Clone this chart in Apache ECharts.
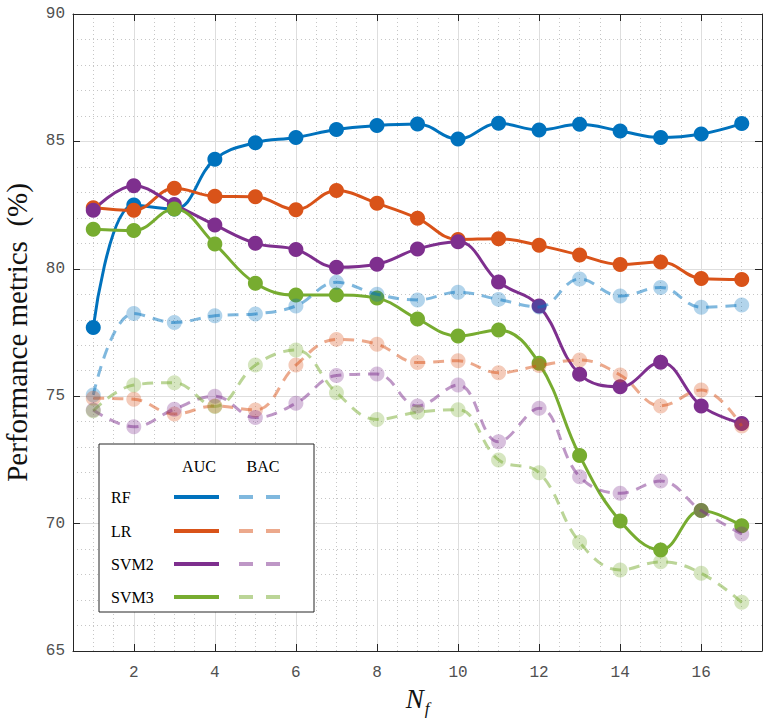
<!DOCTYPE html>
<html>
<head>
<meta charset="utf-8">
<script src="https://cdn.jsdelivr.net/npm/echarts@6/dist/echarts.min.js"></script>
<style>
html,body{margin:0;padding:0;background:#fff;}
#chart{width:771px;height:718px;}
</style>
</head>
<body>
<div id="chart"></div>
<script>
// ---- data ----
const nf = [1, 2, 3, 4, 5, 6, 7, 8, 9, 10, 11, 12, 13, 14, 15, 16, 17];
const methods = ['RF', 'LR', 'SVM2', 'SVM3'];
const metricHeaders = ['AUC', 'BAC'];
const rfAUC   = [77.7, 82.5, 82.35, 84.3, 84.95, 85.15, 85.47, 85.62, 85.68, 85.09, 85.71, 85.45, 85.67, 85.41, 85.15, 85.29, 85.7];
const lrAUC   = [82.4, 82.3, 83.16, 82.85, 82.83, 82.32, 83.07, 82.57, 81.98, 81.15, 81.18, 80.92, 80.54, 80.17, 80.27, 79.62, 79.58];
const svm2AUC = [82.3, 83.26, 82.52, 81.72, 81.0, 80.76, 80.06, 80.18, 80.78, 81.06, 79.48, 78.54, 75.86, 75.37, 76.33, 74.62, 73.93];
const svm3AUC = [81.55, 81.5, 82.35, 80.97, 79.43, 78.97, 78.97, 78.85, 78.03, 77.36, 77.6, 76.29, 72.67, 70.1, 68.96, 70.51, 69.92];
const rfBAC   = [75.05, 78.25, 77.89, 78.16, 78.23, 78.54, 79.47, 79.0, 78.78, 79.08, 78.8, 78.5, 79.6, 78.93, 79.27, 78.49, 78.58];
const lrBAC   = [74.92, 74.88, 74.3, 74.62, 74.46, 76.22, 77.23, 77.04, 76.32, 76.39, 75.92, 76.2, 76.42, 75.83, 74.62, 75.24, 73.83];
const svm2BAC = [74.46, 73.8, 74.49, 75.0, 74.16, 74.72, 75.81, 75.87, 74.62, 75.44, 73.21, 74.53, 71.84, 71.19, 71.67, 70.51, 69.59];
const svm3BAC = [74.43, 75.44, 75.53, 74.6, 76.22, 76.81, 75.14, 74.09, 74.37, 74.47, 72.5, 72.0, 69.27, 68.18, 68.5, 68.05, 66.91];
const xTicks = [2, 4, 6, 8, 10, 12, 14, 16];
const yMin = 65, yMax = 90, xMin = 0.5, xMax = 17.5;

// ---- style ----
const rgb = [[0,114,189],[217,83,25],[126,47,142],[119,172,48]];
const solidCol = rgb.map(c => `rgb(${c[0]},${c[1]},${c[2]})`);
const lineLight = rgb.map(c => `rgba(${c[0]},${c[1]},${c[2]},0.5)`);
const markLight = rgb.map(c => `rgba(${c[0]},${c[1]},${c[2]},0.3)`);
const aucSets = [rfAUC, lrAUC, svm2AUC, svm3AUC];
const bacSets = [rfBAC, lrBAC, svm2BAC, svm3BAC];
const pairs = arr => nf.map((x, i) => [x, arr[i]]);
const axisCol = '#262626';
const tickFont = {fontFamily: 'Liberation Mono', fontSize: 16, color: '#505050'};
const minorCol = '#c6c6c6';
const majorCol = '#dedede';
const T = 'rgba(0,0,0,0)';

const series = [];
aucSets.forEach((d, k) => series.push({
  name: methods[k] + ' AUC', type: 'line', xAxisIndex: 0, yAxisIndex: 0,
  data: pairs(d), smooth: 0.4, symbol: 'circle', symbolSize: 15,
  lineStyle: {color: solidCol[k], width: 3},
  itemStyle: {color: solidCol[k]}, z: 3
}));
bacSets.forEach((d, k) => series.push({
  name: methods[k] + ' BAC', type: 'line', xAxisIndex: 0, yAxisIndex: 0,
  data: pairs(d), smooth: 0.4, symbol: 'circle', symbolSize: 15,
  lineStyle: {color: lineLight[k], width: 3, type: [11, 8]},
  itemStyle: {color: markLight[k]}, z: 4
}));

// legend box (graphic)
const rowY = [497, 531, 564, 597];
const legFont = '16px "Liberation Serif"';
const legendEls = [
  {type: 'rect', shape: {x: 99, y: 444, width: 215, height: 168},
   style: {fill: '#fff', stroke: axisCol, lineWidth: 1}},
  {type: 'text', x: 199, y: 466, style: {text: metricHeaders[0], font: legFont, fill: '#000', align: 'center', verticalAlign: 'middle'}},
  {type: 'text', x: 263, y: 466, style: {text: metricHeaders[1], font: legFont, fill: '#000', align: 'center', verticalAlign: 'middle'}}
];
methods.forEach((m, k) => {
  legendEls.push({type: 'text', x: 111, y: rowY[k], style: {text: m, font: legFont, fill: '#000', align: 'left', verticalAlign: 'middle'}});
  legendEls.push({type: 'line', shape: {x1: 174, y1: rowY[k], x2: 219, y2: rowY[k]}, style: {stroke: solidCol[k], lineWidth: 4}});
  legendEls.push({type: 'line', shape: {x1: 239, y1: rowY[k], x2: 280, y2: rowY[k]}, style: {stroke: lineLight[k], lineWidth: 4, lineDash: [14, 13]}});
});

const chart = echarts.init(document.getElementById('chart'), null, {renderer: 'svg'});
chart.setOption({
  animation: false,
  backgroundColor: '#fff',
  grid: {left: 73, right: 9, top: 14, bottom: 67, containLabel: false, outerBoundsMode: 'none'},
  xAxis: [
    {type: 'value', position: 'bottom', min: xMin, max: xMax, interval: 0.5,
     axisLine: {show: false}, axisTick: {show: false}, axisLabel: {show: false},
     splitLine: {show: true, lineStyle: {color: [minorCol, minorCol, minorCol, T], type: [1, 3], width: 1}}},
    {type: 'value', position: 'bottom', min: xMin, max: xMax, interval: 0.5,
     axisLine: {show: false}, axisTick: {show: false}, axisLabel: {show: false},
     splitLine: {show: true, lineStyle: {color: [T, T, T, majorCol], width: 1}}},
    {type: 'value', position: 'bottom', min: xMin, max: xMax, interval: 0.5,
     axisLine: {show: true, onZero: false, lineStyle: {color: axisCol, width: 1}},
     axisTick: {show: true, inside: true, length: 7, customValues: xTicks, lineStyle: {color: axisCol}},
     axisLabel: {show: true, customValues: xTicks, margin: 14, ...tickFont},
     splitLine: {show: false},
     name: '{n|N}{s|f}', nameLocation: 'middle', nameGap: 26,
     nameTextStyle: {rich: {
       n: {fontFamily: 'Liberation Serif', fontStyle: 'italic', fontSize: 27, color: '#111', verticalAlign: 'bottom'},
       s: {fontFamily: 'Liberation Serif', fontStyle: 'italic', fontSize: 17, color: '#111', verticalAlign: 'bottom', padding: [0, 0, -4, 1]}
     }}},
    {type: 'value', position: 'top', min: xMin, max: xMax, interval: 0.5,
     axisLine: {show: true, onZero: false, lineStyle: {color: axisCol, width: 1}},
     axisTick: {show: true, inside: true, length: 7, customValues: xTicks, lineStyle: {color: axisCol}},
     axisLabel: {show: false}, splitLine: {show: false}}
  ],
  yAxis: [
    {type: 'value', position: 'left', min: yMin, max: yMax, interval: 5,
     axisLine: {show: true, onZero: false, lineStyle: {color: axisCol, width: 1}},
     axisTick: {show: true, inside: true, length: 7, lineStyle: {color: axisCol}},
     axisLabel: {show: true, margin: 8, ...tickFont},
     splitLine: {show: true, lineStyle: {color: majorCol, width: 1}},
     name: 'Performance metrics  (%)', nameLocation: 'middle', nameGap: 42,
     nameTextStyle: {fontFamily: 'Liberation Serif', fontSize: 29, color: '#111'}},
    {type: 'value', position: 'left', min: yMin, max: yMax, interval: 1,
     axisLine: {show: false}, axisTick: {show: false}, axisLabel: {show: false},
     splitLine: {show: true, lineStyle: {color: [T, minorCol, minorCol, minorCol, minorCol], type: [1, 3], width: 1}}},
    {type: 'value', position: 'right', min: yMin, max: yMax, interval: 5,
     axisLine: {show: true, onZero: false, lineStyle: {color: axisCol, width: 1}},
     axisTick: {show: true, inside: true, length: 7, lineStyle: {color: axisCol}},
     axisLabel: {show: false}, splitLine: {show: false}}
  ],
  series: series,
  graphic: {elements: legendEls.map(e => Object.assign({z: 100}, e))}
});
</script>
</body>
</html>
